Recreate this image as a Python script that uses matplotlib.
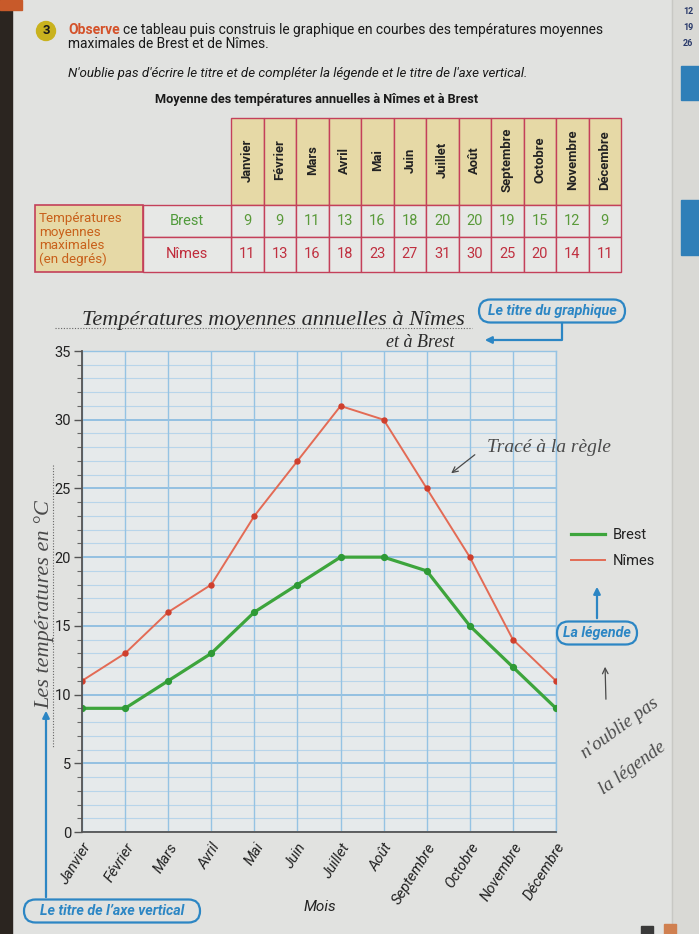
import matplotlib
matplotlib.use("Agg")
import matplotlib.pyplot as plt
from matplotlib.patches import Rectangle, FancyBboxPatch, Circle
from matplotlib.lines import Line2D

# ---------------- data ----------------
months = ["Janvier", "Février", "Mars", "Avril", "Mai", "Juin", "Juillet",
          "Août", "Septembre", "Octobre", "Novembre", "Décembre"]
brest = [9, 9, 11, 13, 16, 18, 20, 20, 19, 15, 12, 9]
nimes = [11, 13, 16, 18, 23, 27, 31, 30, 25, 20, 14, 11]
y_ticks = [0, 5, 10, 15, 20, 25, 30, 35]
series_names = ["Brest", "Nîmes"]

# ---------------- styles ----------------
PAGE = "#e1e2e0"
GREEN = "#3da53c"
GREEN_D = "#2e9a36"
RED = "#e36b55"
RED_D = "#cf3f2d"
BLUE = "#2c86c4"
PENCIL = "#4a4a4a"
TAN = "#e6d9a6"
CRIMSON = "#c4405a"
BODY = "Roboto"
HAND = "Liberation Serif"

W, H = 699, 934
fig = plt.figure(figsize=(W / 100, H / 100), dpi=100)
fig.patch.set_facecolor(PAGE)

bg = fig.add_axes([0, 0, 1, 1], zorder=0)
bg.set_xlim(0, W)
bg.set_ylim(H, 0)
bg.axis("off")

# overlay for notes drawn over the chart
top = fig.add_axes([0, 0, 1, 1], zorder=6)
top.set_xlim(0, W)
top.set_ylim(H, 0)
top.axis("off")
top.patch.set_alpha(0)

# page decorations
bg.add_patch(Rectangle((0, 0), 12, H, color="#2b2520", zorder=1))
bg.add_patch(Rectangle((0, 0), 22, 10, color="#c85a2a", zorder=1))
bg.add_patch(Rectangle((672, 0), 27, H, color="#d9d9d5", zorder=1))
bg.plot([672, 672], [0, H], color="#c8c8c4", lw=1, zorder=2)
for i, t in enumerate(["12", "19", "26"]):
    bg.text(683, 12 + 16 * i, t, fontsize=6.5, color="#2a3a6a", fontweight="bold",
            family=BODY, va="center", ha="left", zorder=3)
bg.add_patch(Rectangle((681, 66), 18, 34, color="#2f7fb8", zorder=2))
bg.add_patch(Rectangle((681, 200), 18, 55, color="#2f7fb8", zorder=2))
bg.add_patch(Rectangle((641, 926), 12, 8, color="#3a3a3a", zorder=2))
bg.add_patch(Rectangle((664, 924), 12, 10, color="#d08050", zorder=2))

# ---------------- header ----------------
bg.add_patch(Circle((46, 31), 9.5, color="#c9b21e", zorder=2))
bg.text(46, 31, "3", fontsize=9.5, fontweight="bold", ha="center", va="center",
        family=BODY, color="#1a1a1a", zorder=3)
bg.text(68, 30, "Observe", fontsize=10, fontweight="bold", color="#d4522a",
        family=BODY, va="center", zorder=3)
bg.text(123, 30, "ce tableau puis construis le graphique en courbes des températures moyennes",
        fontsize=9.9, color="#1a1a1a", family=BODY, va="center", zorder=3)
bg.text(68, 44, "maximales de Brest et de Nîmes.", fontsize=9.9, color="#1a1a1a",
        family=BODY, va="center", zorder=3)
bg.text(68, 73, "N'oublie pas d'écrire le titre et de compléter la légende et le titre de l'axe vertical.",
        fontsize=9.6, style="italic", color="#1a1a1a", family=BODY, va="center", zorder=3)
bg.text(317, 100, "Moyenne des températures annuelles à Nîmes et à Brest",
        fontsize=9.2, fontweight="bold", color="#1a1a1a", family=BODY,
        ha="center", va="center", zorder=3)

# ---------------- table ----------------
x0, cw = 231, 32.5
ttop, hb, r1, r2 = 118, 205, 237, 272
for i, m in enumerate(months):
    xl = x0 + i * cw
    bg.add_patch(Rectangle((xl, ttop), cw, hb - ttop, facecolor=TAN, edgecolor=CRIMSON, lw=1, zorder=2))
    bg.add_patch(Rectangle((xl, hb), cw, r1 - hb, facecolor="#e7e8e6", edgecolor=CRIMSON, lw=1, zorder=2))
    bg.add_patch(Rectangle((xl, r1), cw, r2 - r1, facecolor="#e7e8e6", edgecolor=CRIMSON, lw=1, zorder=2))
    bg.text(xl + cw / 2, 160, m, rotation=90, fontsize=9.4, fontweight="bold", color="#222",
            family=BODY, ha="center", va="center", zorder=3)
    bg.text(xl + cw / 2, (hb + r1) / 2, str(brest[i]), fontsize=10.5, color="#5a9a3a",
            family=BODY, ha="center", va="center", zorder=3)
    bg.text(xl + cw / 2, (r1 + r2) / 2, str(nimes[i]), fontsize=10.5, color="#c03040",
            family=BODY, ha="center", va="center", zorder=3)
bg.add_patch(Rectangle((35, hb), 108, r2 - hb, facecolor=TAN, edgecolor=CRIMSON, lw=1.2, zorder=2))
bg.add_patch(Rectangle((143, hb), x0 - 143, r1 - hb, facecolor="#e7e8e6", edgecolor=CRIMSON, lw=1, zorder=2))
bg.add_patch(Rectangle((143, r1), x0 - 143, r2 - r1, facecolor="#e7e8e6", edgecolor=CRIMSON, lw=1, zorder=2))
bg.text(39, 239, "Températures\nmoyennes\nmaximales\n(en degrés)", fontsize=9.6, color="#c8601a",
        family=BODY, ha="left", va="center", linespacing=1.02, zorder=3)
bg.text(187, (hb + r1) / 2, series_names[0], fontsize=10.5, color="#4f9a3a", family=BODY,
        ha="center", va="center", zorder=3)
bg.text(187, (r1 + r2) / 2, series_names[1], fontsize=10.5, color="#c02a3a", family=BODY,
        ha="center", va="center", zorder=3)

# ---------------- handwritten title ----------------
bg.plot([55, 472], [328, 328], color="#666", lw=0.8, ls=(0, (1, 1.5)), zorder=2)
bg.text(82, 325, "Températures moyennes annuelles à Nîmes", fontsize=16, style="italic",
        family=HAND, color="#2a2a2a", va="baseline", zorder=3)
bg.text(386, 347, "et à Brest", fontsize=13, style="italic", family=HAND, color="#2a2a2a",
        va="baseline", zorder=3)

# blue annotation boxes
def blue_box(cx, cy, w, h, text, fs=10.3):
    top.add_patch(FancyBboxPatch((cx - w / 2, cy - h / 2), w, h,
                                 boxstyle="round,pad=0,rounding_size=%f" % (h / 2),
                                 facecolor="none", edgecolor=BLUE, lw=1.6, zorder=3))
    top.text(cx, cy, text, fontsize=fs, fontweight="bold", style="italic", color=BLUE,
             family=BODY, ha="center", va="center", zorder=4)

blue_box(552, 311, 146, 23, "Le titre du graphique")
top.plot([562, 562, 492], [322.5, 340, 340], color=BLUE, lw=1.6, zorder=3)
top.annotate("", xy=(482, 340), xytext=(495, 340),
             arrowprops=dict(arrowstyle="-|>", color=BLUE, lw=1.6, mutation_scale=10), zorder=3)

blue_box(597, 633, 80, 23, "La légende")
top.annotate("", xy=(597, 584), xytext=(597, 621),
             arrowprops=dict(arrowstyle="-|>", color=BLUE, lw=1.6, mutation_scale=10), zorder=3)

blue_box(112, 911, 176, 23, "Le titre de l’axe vertical")
top.annotate("", xy=(46, 708), xytext=(46, 900),
             arrowprops=dict(arrowstyle="-|>", color=BLUE, lw=1.6, mutation_scale=10), zorder=3)

# pencil notes
top.text(487, 447, "Tracé à la règle", fontsize=14, style="italic", family=HAND,
         color=PENCIL, va="center", zorder=3)
top.annotate("", xy=(449, 475), xytext=(477, 453),
             arrowprops=dict(arrowstyle="->", color=PENCIL, lw=0.9), zorder=3)
top.text(620, 728, "n'oublie pas", fontsize=13.5, style="italic", family=HAND, color=PENCIL,
         rotation=36, ha="center", va="center", zorder=3)
top.text(633, 768, "la légende", fontsize=13.5, style="italic", family=HAND, color=PENCIL,
         rotation=36, ha="center", va="center", zorder=3)
top.annotate("", xy=(605, 664), xytext=(606, 702),
             arrowprops=dict(arrowstyle="->", color=PENCIL, lw=0.9), zorder=3)

# handwritten y-axis title
bg.plot([53, 53], [465, 748], color="#666", lw=0.8, ls=(0, (1, 1.5)), zorder=2)
bg.text(44, 605, "Les températures en °C", fontsize=16, style="italic", family=HAND,
        color=PENCIL, rotation=90, ha="center", va="center", zorder=3)

# ---------------- chart ----------------
L, R, T, B = 82, 556, 351, 832
ax = fig.add_axes([L / W, 1 - B / H, (R - L) / W, (B - T) / H], zorder=2)
ax.set_facecolor("#e6eaeb")
x = list(range(len(months)))
ax.set_xlim(0, len(months) - 1)
ax.set_ylim(y_ticks[0], y_ticks[-1])

for v in range(y_ticks[0], y_ticks[-1] + 1):
    major = v % 5 == 0
    ax.axhline(v, color="#8dbde0" if major else "#b8d5ea", lw=1.3 if major else 0.8, zorder=1)
for xi in x:
    ax.axvline(xi, color="#95c3e3", lw=1.0, zorder=1)

ax.plot(x, nimes, color=RED, lw=1.4, zorder=3)
ax.plot(x, nimes, ls="none", marker="o", ms=3.6, color=RED_D, zorder=4)
ax.plot(x, brest, color=GREEN, lw=2.3, zorder=3)
ax.plot(x, brest, ls="none", marker="o", ms=4.2, color=GREEN_D, zorder=4)

ax.set_yticks(y_ticks)
ax.set_yticks(range(y_ticks[0], y_ticks[-1] + 1), minor=True)
ax.tick_params(axis="y", which="major", length=6, width=1, color="#555", labelsize=10.5,
               labelcolor="#222", pad=2)
ax.tick_params(axis="y", which="minor", length=3.5, width=0.8, color="#666")
for lab in ax.get_yticklabels():
    lab.set_family(BODY)

ax.set_xticks(x)
ax.set_xticklabels(months, rotation=58, ha="right", va="top", rotation_mode="anchor",
                   fontsize=10.6, style="italic", family=BODY, color="#222")
ax.tick_params(axis="x", length=0, pad=6)
ax.set_xlabel("Mois", fontsize=11, style="italic", family=BODY, color="#222")
ax.xaxis.set_label_coords((320 - L) / (R - L), (B - 900) / (B - T))

for s in ["left", "bottom"]:
    ax.spines[s].set_color("#555")
    ax.spines[s].set_linewidth(1.3)
    ax.spines[s].set_zorder(5)
for s in ["top", "right"]:
    ax.spines[s].set_color("#95c3e3")
    ax.spines[s].set_linewidth(1.0)

handles = [Line2D([], [], color=GREEN, lw=2.3), Line2D([], [], color=RED, lw=1.4)]
leg = ax.legend(handles, series_names, loc="center left", bbox_to_anchor=(1.005, 0.59),
                frameon=False, handlelength=2.3, handletextpad=0.5, labelspacing=0.8,
                prop={"family": BODY, "size": 10.5})
for t in leg.get_texts():
    t.set_color("#222")

fig.savefig("out.png", dpi=100, facecolor=fig.get_facecolor())
